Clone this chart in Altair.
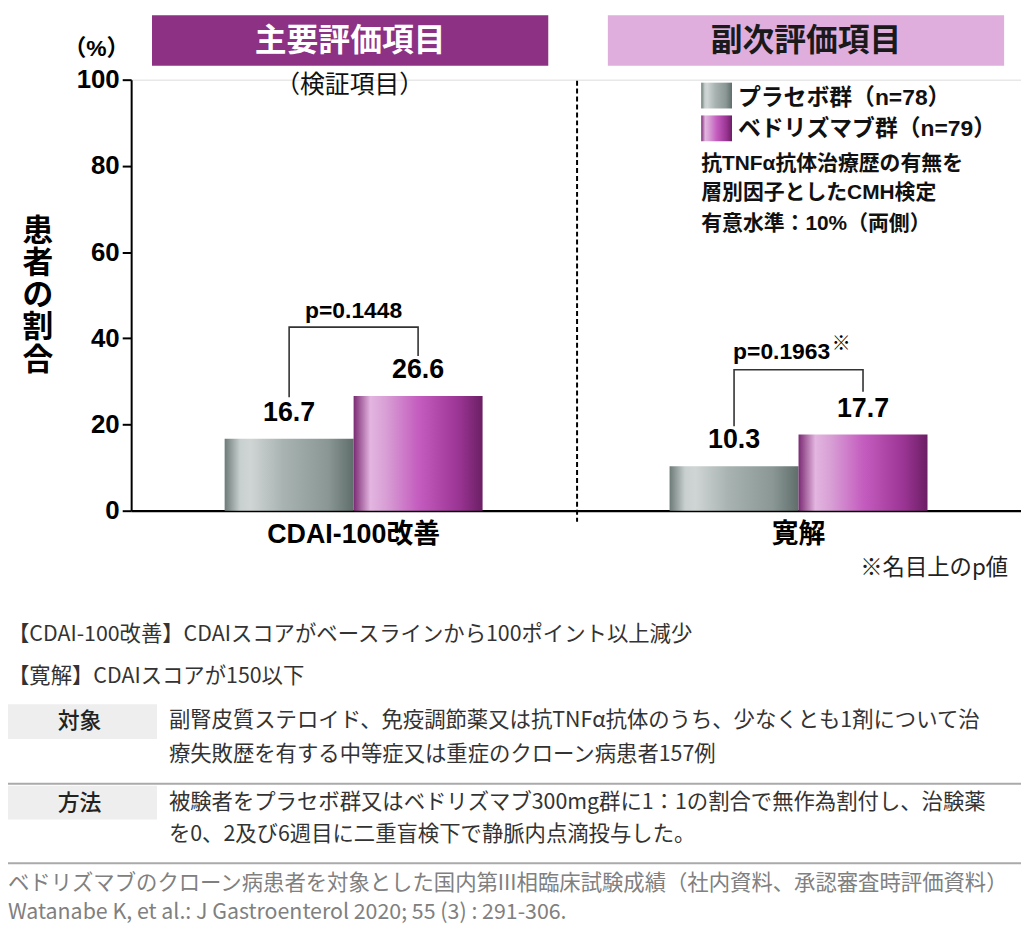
import altair as alt
import pandas as pd

# ---------------- data ----------------
metrics = ["CDAI-100改善", "寛解"]
groups = ["プラセボ群", "ベドリズマブ群"]
placebo_vals = [16.7, 10.3]
vedo_vals = [26.6, 17.7]
p_labels = ["p=0.1448", "p=0.1963"]
p_marks = ["", "※"]
bracket_top = [42.6, 32.7]
bracket_low_placebo = [26.3, 19.6]
bracket_low_vedo = [35.9, 27.6]
legend_labels = ["プラセボ群（n=78）", "ベドリズマブ群（n=79）"]
y_ticks = [0, 20, 40, 60, 80, 100]
header_primary = "主要評価項目"
header_primary_sub = "（検証項目）"
header_secondary = "副次評価項目"
y_title = "患者の割合"
y_unit = "（%）"
notes = ["抗TNFα抗体治療歴の有無を", "層別因子としたCMH検定", "有意水準：10%（両側）"]
footnote_p = "※名目上のp値"
definitions = ["【CDAI-100改善】CDAIスコアがベースラインから100ポイント以上減少",
               "【寛解】CDAIスコアが150以下"]
target_label = "対象"
target_lines = ["副腎皮質ステロイド、免疫調節薬又は抗TNFα抗体のうち、少なくとも1剤について治",
                "療失敗歴を有する中等症又は重症のクローン病患者157例"]
method_label = "方法"
method_lines = ["被験者をプラセボ群又はベドリズマブ300mg群に1：1の割合で無作為割付し、治験薬",
                "を0、2及び6週目に二重盲検下で静脈内点滴投与した。"]
references = ["ベドリズマブのクローン病患者を対象とした国内第III相臨床試験成績（社内資料、承認審査時評価資料）",
              "Watanabe K, et al.: J Gastroenterol 2020; 55 (3) : 291-306."]

# ---------------- tables ----------------
bars = pd.DataFrame({
    "metric": metrics * 2,
    "group": [groups[0]] * 2 + [groups[1]] * 2,
    "value": placebo_vals + vedo_vals,
})
bracket_rows = []
for i, m in enumerate(metrics):
    bracket_rows += [
        {"metric": m, "group": groups[0], "value": bracket_low_placebo[i], "seq": 0},
        {"metric": m, "group": groups[0], "value": bracket_top[i], "seq": 1},
        {"metric": m, "group": groups[1], "value": bracket_top[i], "seq": 2},
        {"metric": m, "group": groups[1], "value": bracket_low_vedo[i], "seq": 3},
    ]
bracket = pd.DataFrame(bracket_rows)
ptext = pd.DataFrame({"metric": metrics, "value": bracket_top, "label": p_labels,
                      "mark": p_marks})
one = pd.DataFrame({"a": [0]})

LATIN = "Liberation Sans, Noto Sans CJK JP"
CJK = "Noto Sans CJK JP"

grad_placebo = alt.Gradient(
    gradient="linear", x1=0, x2=1, y1=0, y2=0,
    stops=[alt.GradientStop(color="#6c7a78", offset=0),
           alt.GradientStop(color="#c8d0cf", offset=0.12),
           alt.GradientStop(color="#cfd5d4", offset=0.2),
           alt.GradientStop(color="#a9b4b2", offset=0.45),
           alt.GradientStop(color="#8a9795", offset=0.8),
           alt.GradientStop(color="#5f6d6b", offset=1)])
grad_vedo = alt.Gradient(
    gradient="linear", x1=0, x2=1, y1=0, y2=0,
    stops=[alt.GradientStop(color="#7a2a73", offset=0),
           alt.GradientStop(color="#e3b5e0", offset=0.13),
           alt.GradientStop(color="#d89fd5", offset=0.25),
           alt.GradientStop(color="#c45dbf", offset=0.5),
           alt.GradientStop(color="#9a3493", offset=0.82),
           alt.GradientStop(color="#6b1f64", offset=1)])

x_axis = alt.Axis(title=None, labelAngle=0, ticks=False, domainWidth=2.2,
                  domainColor="#000", labelFont=LATIN, labelFontSize=27,
                  labelFontWeight="bold", labelColor="#000", labelPadding=11)
x_enc = alt.X("metric:N", sort=metrics,
              scale=alt.Scale(domain=metrics, paddingInner=0, paddingOuter=0),
              axis=x_axis)
xo_enc = alt.XOffset("group:N", sort=groups,
                     scale=alt.Scale(domain=groups, paddingInner=0, paddingOuter=0.725))
y_axis = alt.Axis(title=None, values=y_ticks, grid=False, tickSize=9,
                  tickWidth=2, tickColor="#000", domainWidth=2, domainColor="#000",
                  labelFont="Liberation Sans", labelFontSize=26,
                  labelFontWeight="bold", labelColor="#000", labelPadding=3)
y_enc = alt.Y("value:Q", scale=alt.Scale(domain=[0, 100], nice=False), axis=y_axis)

base = alt.Chart(bars)
bar_p = base.transform_filter(alt.datum.group == groups[0]).mark_bar(
    color=grad_placebo).encode(x=x_enc, xOffset=xo_enc, y=y_enc)
bar_v = base.transform_filter(alt.datum.group == groups[1]).mark_bar(
    color=grad_vedo).encode(x=x_enc, xOffset=xo_enc, y=y_enc)
vals = base.mark_text(font="Liberation Sans", fontSize=27, fontWeight="bold",
                      baseline="bottom", dy=-12, color="#000").encode(
    x=x_enc, xOffset=xo_enc, y=y_enc, text=alt.Text("value:Q", format=".1f"))

br = alt.Chart(bracket).mark_line(color="#333", strokeWidth=1.6).encode(
    x=x_enc, xOffset=xo_enc, y=y_enc, detail="metric:N", order="seq:Q")
pt1 = alt.Chart(ptext).transform_filter(alt.datum.metric == metrics[0]).mark_text(
    font="Liberation Sans", fontSize=23, fontWeight="bold",
    baseline="alphabetic", dy=-9, color="#000").encode(x=x_enc, y=y_enc, text="label:N")
pt2 = alt.Chart(ptext).transform_filter(alt.datum.metric == metrics[1]).mark_text(
    font="Liberation Sans", fontSize=23, fontWeight="bold", dx=-17,
    baseline="alphabetic", dy=-11, color="#000").encode(x=x_enc, y=y_enc, text="label:N")
pm2 = alt.Chart(ptext).transform_filter(alt.datum.metric == metrics[1]).mark_text(
    font=CJK, fontSize=19, fontWeight="bold", dx=43,
    baseline="alphabetic", dy=-20, color="#000").encode(x=x_enc, y=y_enc, text="mark:N")

sep = alt.Chart(one).mark_rule(strokeDash=[5, 3], strokeWidth=2, color="#000").encode(
    x=alt.value(449), y=alt.value(1), y2=alt.value(445))


def txt(s, x, y, size, weight="normal", color="#000", align="left", font=CJK,
        baseline="middle", **kw):
    return alt.Chart(one).mark_text(text=s, x=x, y=y, fontSize=size, fontWeight=weight,
                                    color=color, align=align, font=font,
                                    baseline=baseline, **kw)


def rect(x, x2, y, y2, fill):
    return alt.Chart(one).mark_rect(color=fill).encode(
        x=alt.value(x), x2=alt.value(x2), y=alt.value(y), y2=alt.value(y2))


layers = [
    rect(21, 420, -65, -14, "#8c3184"),
    rect(480, 879, -65, -14, "#e0aedd"),
    txt(header_primary, 220.5, -39, 32, "bold", "#ffffff", "center"),
    txt(header_secondary, 679.5, -39, 32, "bold", "#1a1a1a", "center"),
    txt(header_primary_sub, 220, 5, 25, "normal", "#111", "center"),
    txt(y_unit, -35, -31, 23, "bold", "#000", "center", LATIN),
    alt.Chart(one).mark_text(text=list(y_title), x=-94, y=138, fontSize=31,
                             fontWeight="bold", font=CJK, lineHeight=32.5,
                             align="center", baseline="top", color="#000"),
    rect(574, 605, 3, 29, grad_placebo),
    rect(574, 605, 36, 62, grad_vedo),
    txt(legend_labels[0], 611, 18, 23, "bold", "#111", "left", LATIN),
    txt(legend_labels[1], 611, 50, 23, "bold", "#111", "left", LATIN),
    txt(notes[0], 574, 85, 21, "bold", "#111", "left", LATIN),
    txt(notes[1], 574, 114, 21, "bold", "#111", "left", LATIN),
    txt(notes[2], 574, 145, 21, "bold", "#111", "left", LATIN),
    sep, bar_p, bar_v, vals, br, pt1, pt2, pm2,
    txt(footnote_p, 883, 492, 22.5, "normal", "#222", "right"),
    txt(definitions[0], -124, 559, 21.5, "normal", "#333"),
    txt(definitions[1], -124, 601, 21.5, "normal", "#333"),
    rect(-140, 26, 629, 664, "#eeeeee"),
    txt(target_label, -52, 646, 22, 500, "#222", "center"),
    txt(target_lines[0], 38, 646, 21.5, "normal", "#333"),
    txt(target_lines[1], 38, 680, 21.5, "normal", "#333"),
    alt.Chart(one).mark_rule(color="#aaaaaa", strokeWidth=2).encode(
        x=alt.value(-140), x2=alt.value(900), y=alt.value(709)),
    rect(-140, 26, 711, 745, "#eeeeee"),
    txt(method_label, -52, 728, 22, 500, "#222", "center"),
    txt(method_lines[0], 38, 728, 21.5, "normal", "#333"),
    txt(method_lines[1], 38, 761, 21.5, "normal", "#333"),
    alt.Chart(one).mark_rule(color="#aaaaaa", strokeWidth=2).encode(
        x=alt.value(-140), x2=alt.value(900), y=alt.value(789)),
    txt(references[0], -124, 810, 21.5, "normal", "#808080"),
    txt(references[1], -124, 839, 21.5, "normal", "#808080"),
]

chart = alt.layer(*layers).properties(
    width=896, height=434,
    padding={"left": 124, "top": 69, "right": 0, "bottom": 416},
    autosize=alt.AutoSizeParams(type="none"),
).configure_view(stroke=None).configure(background="#ffffff")

chart.save("out.html", embed_options={"renderer": "svg", "actions": False})
